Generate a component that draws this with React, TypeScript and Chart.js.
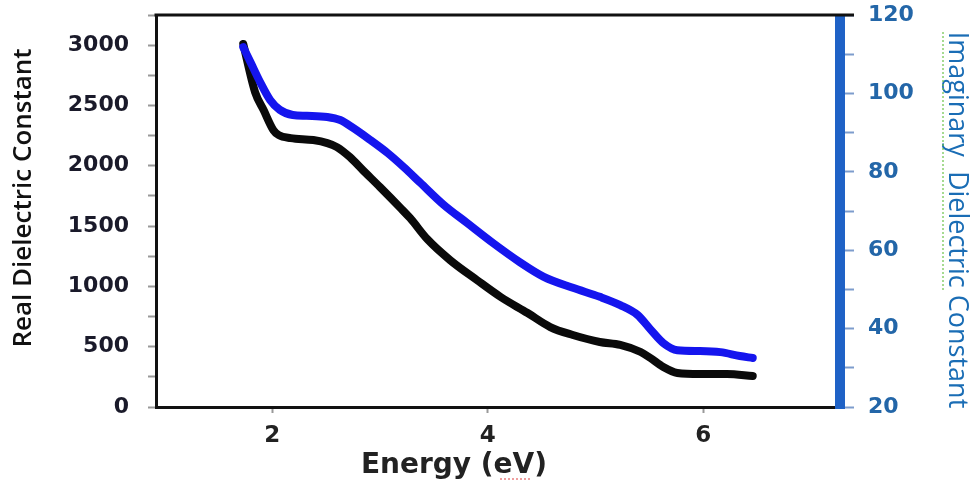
import React, { useEffect, useRef } from "react";
import { Chart, registerables } from "chart.js";

Chart.register(...registerables);

// Real dielectric constant (left axis) vs energy (eV)
const energyReal = [1.73, 1.84, 1.92, 2.01, 2.06, 2.17, 2.38, 2.51, 2.6, 2.72, 2.84, 3.0, 3.19, 3.28, 3.44, 3.65, 3.9, 4.12, 4.37, 4.58, 4.79, 5.04, 5.23, 5.42, 5.51, 5.63, 5.76, 5.97, 6.22, 6.46];
const realValues = [3010, 2610, 2460, 2295, 2254, 2229, 2213, 2188, 2155, 2072, 1964, 1823, 1650, 1565, 1390, 1218, 1052, 912, 779, 663, 597, 539, 515, 456, 406, 331, 282, 273, 273, 257];

// Imaginary dielectric constant (right axis) vs energy (eV)
const energyImag = [1.73, 1.8, 1.89, 1.98, 2.07, 2.19, 2.32, 2.51, 2.63, 2.75, 2.91, 3.07, 3.22, 3.37, 3.59, 3.81, 4.05, 4.3, 4.52, 4.79, 5.04, 5.23, 5.39, 5.51, 5.63, 5.76, 5.97, 6.16, 6.34, 6.46];
const imagValues = [111.8, 107.8, 102.7, 98.3, 95.8, 94.5, 94.3, 94.0, 93.2, 91.2, 88.1, 84.8, 81.2, 77.3, 71.6, 66.9, 61.8, 56.9, 53.2, 50.4, 48.1, 46.0, 43.5, 39.8, 36.3, 34.5, 34.3, 34.0, 33.0, 32.5];

const xTickValues = [2, 4, 6];
const xTitle = "Energy (eV)";
const yLeftTitle = "Real Dielectric Constant";
const yRightTitle = "Imaginary  Dielectric Constant";

const titlesPlugin = {
  id: "titlesPlugin",
  afterDraw(chart: any) {
    const { ctx, chartArea } = chart;
    ctx.save();
    // right blue axis bar
    ctx.fillStyle = "#1f62c6";
    ctx.fillRect(chartArea.right - 5, chartArea.top, 10, chartArea.bottom - chartArea.top + 2);

    // top frame line
    ctx.strokeStyle = "#111111";
    ctx.lineWidth = 3;
    ctx.beginPath();
    ctx.moveTo(chartArea.left - 1.5, chartArea.top);
    ctx.lineTo(chartArea.right + 14, chartArea.top);
    ctx.stroke();

    // left title
    ctx.fillStyle = "#111111";
    ctx.font = "600 26px 'Open Sans'";
    ctx.textAlign = "center";
    ctx.textBaseline = "middle";
    ctx.save();
    ctx.translate(24, 198);
    ctx.rotate(-Math.PI / 2);
    ctx.fillText(yLeftTitle, 0, 0);
    ctx.restore();

    // right title
    ctx.fillStyle = "#1a6db5";
    ctx.font = "400 27px 'Open Sans'";
    ctx.save();
    ctx.translate(957, 220);
    ctx.rotate(Math.PI / 2);
    ctx.fillText(yRightTitle, 0, 0);
    ctx.restore();

    // green squiggle next to "Imaginary"
    ctx.strokeStyle = "#6cc24a";
    ctx.lineWidth = 1.2;
    ctx.setLineDash([2, 2]);
    ctx.beginPath();
    ctx.moveTo(943, 32);
    ctx.lineTo(943, 292);
    ctx.stroke();
    ctx.setLineDash([]);

    // x title
    ctx.fillStyle = "#222222";
    ctx.font = "bold 28px 'DejaVu Sans'";
    ctx.textAlign = "center";
    ctx.fillText(xTitle, 454, 466);

    // red squiggle under "eV"
    ctx.strokeStyle = "#e04040";
    ctx.lineWidth = 1;
    ctx.setLineDash([2, 2]);
    ctx.beginPath();
    ctx.moveTo(500, 479);
    ctx.lineTo(532, 479);
    ctx.stroke();
    ctx.restore();
  },
};

export default function App() {
  const canvasRef = useRef<HTMLCanvasElement | null>(null);

  useEffect(() => {
    document.body.style.margin = "0";
    const canvas = canvasRef.current;
    if (!canvas) return;
    const chart = new Chart(canvas, {
      type: "line",
      data: {
        datasets: [
          {
            label: "Imaginary",
            data: energyImag.map((x, i) => ({ x, y: imagValues[i] })),
            yAxisID: "y2",
            borderColor: "#1515ee",
            borderWidth: 8,
            pointRadius: 0,
            cubicInterpolationMode: "monotone",
            borderCapStyle: "round",
            borderJoinStyle: "round",
            fill: false,
          },
          {
            label: "Real",
            data: energyReal.map((x, i) => ({ x, y: realValues[i] })),
            yAxisID: "y",
            borderColor: "#0a0a0a",
            borderWidth: 8,
            pointRadius: 0,
            cubicInterpolationMode: "monotone",
            borderCapStyle: "round",
            borderJoinStyle: "round",
            fill: false,
          },
        ],
      },
      options: {
        animation: false,
        responsive: false,
        maintainAspectRatio: false,
        layout: { padding: { top: 15, left: 0, right: 0, bottom: 0 } },
        plugins: { legend: { display: false }, tooltip: { enabled: false } },
        scales: {
          x: {
            type: "linear",
            min: 0.92,
            max: 7.27,
            afterBuildTicks: (s: any) => {
              s.ticks = xTickValues.map((v) => ({ value: v }));
            },
            afterFit: (s: any) => {
              s.height = 75;
              s.paddingLeft = 0;
              s.paddingRight = 0;
            },
            border: { display: true, color: "#111111", width: 3 },
            grid: { drawOnChartArea: false, drawTicks: true, tickLength: 6, tickColor: "#999999", tickWidth: 2 },
            ticks: {
              padding: 9,
              color: "#222222",
              font: { family: "'DejaVu Sans'", weight: "bold", size: 23 },
              autoSkip: false,
              maxRotation: 0,
            },
          },
          y: {
            type: "linear",
            position: "left",
            min: 0,
            max: 3250,
            afterFit: (s: any) => {
              s.width = 156;
              s.paddingTop = 0;
              s.paddingBottom = 0;
            },
            border: { display: true, color: "#111111", width: 3 },
            grid: { drawOnChartArea: false, drawTicks: true, tickLength: 8, tickColor: "#999999", tickWidth: 2 },
            ticks: {
              stepSize: 250,
              padding: 19,
              autoSkip: false,
              color: "#1a1a2a",
              font: { family: "'DejaVu Sans'", weight: "bold", size: 22 },
              callback: (v: any) => (Number(v) % 500 === 0 ? String(v) : ""),
            },
          },
          y2: {
            type: "linear",
            position: "right",
            min: 20,
            max: 120,
            afterFit: (s: any) => {
              s.width = 135;
              s.paddingTop = 0;
              s.paddingBottom = 0;
            },
            border: { display: false },
            grid: { drawOnChartArea: false, drawTicks: true, tickLength: 14, tickColor: "#7d9ccc", tickWidth: 2 },
            ticks: {
              stepSize: 10,
              padding: 14,
              autoSkip: false,
              color: "#2366a8",
              font: { family: "'DejaVu Sans'", weight: "bold", size: 22 },
              callback: (v: any) => (Number(v) % 20 === 0 ? String(v) : ""),
            },
          },
        },
      },
      plugins: [titlesPlugin],
    } as any);
    return () => chart.destroy();
  }, []);

  return (
    <div style={{ position: "absolute", left: 0, top: 0, width: 975, height: 482, background: "#ffffff" }}>
      <canvas ref={canvasRef} width={975} height={482} style={{ display: "block", width: 975, height: 482 }} />
    </div>
  );
}
